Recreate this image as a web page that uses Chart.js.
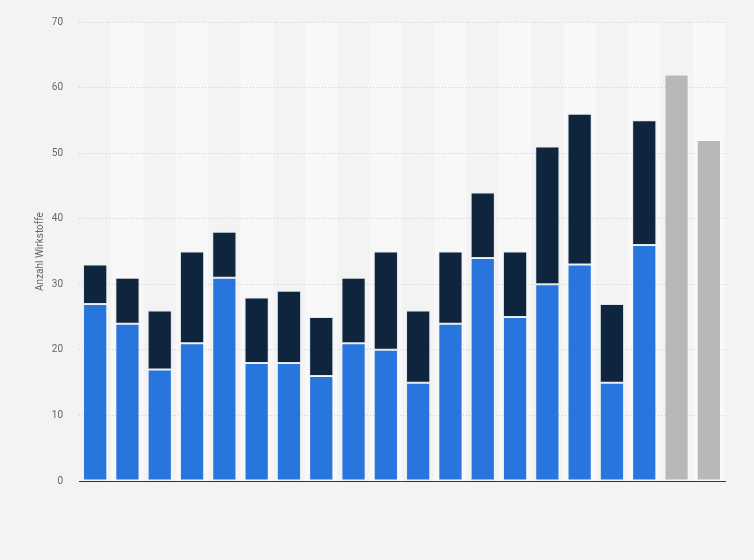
<!DOCTYPE html>
<html>
<head>
<meta charset="utf-8">
<script src="https://cdn.jsdelivr.net/npm/chart.js@4/dist/chart.umd.min.js"></script>
<style>
  html, body { margin: 0; padding: 0; background: #f3f3f3; }
  #wrap { width: 754px; height: 560px; position: relative; }
</style>
</head>
<body>
<div id="wrap"><canvas id="c"></canvas></div>
<script>
const categories = ['1','2','3','4','5','6','7','8','9','10','11','12','13','14','15','16','17','18','19','20'];
const seriesBlue  = [27, 24, 17, 21, 31, 18, 18, 16, 21, 20, 15, 24, 34, 25, 30, 33, 15, 36, null, null];
const seriesDark  = [6, 7, 9, 14, 7, 10, 11, 9, 10, 15, 11, 11, 10, 10, 21, 23, 12, 19, null, null];
const seriesGray  = [null, null, null, null, null, null, null, null, null, null, null, null, null, null, null, null, null, null, 62, 52];
const yTicks = [0, 10, 20, 30, 40, 50, 60, 70];

const bandPlugin = {
  id: 'bands',
  beforeDraw(chart) {
    const { ctx, chartArea, scales } = chart;
    ctx.save();
    ctx.fillStyle = '#f3f3f3';
    ctx.fillRect(0, 0, chart.width, chart.height);
    const x = scales.x;
    const n = categories.length;
    const w = (chartArea.right - chartArea.left) / n;
    for (let i = 0; i < n; i++) {
      if (i % 2 === 1) {
        const cx = x.getPixelForValue(i);
        ctx.fillStyle = '#f8f8f8';
        ctx.fillRect(cx - w / 2, chartArea.top, w, chartArea.bottom - chartArea.top);
      }
    }
    ctx.restore();
  }
};

new Chart(document.getElementById('c'), {
  type: 'bar',
  data: {
    labels: categories,
    datasets: [
      { label: 'A', data: seriesBlue, backgroundColor: '#2876dd', borderColor: 'rgba(230,240,255,0.45)', borderWidth: 1, borderSkipped: false },
      { label: 'B', data: seriesDark, backgroundColor: '#0f253d', borderColor: 'rgba(200,210,225,0.45)', borderWidth: 1, borderSkipped: false },
      { label: 'C', data: seriesGray, backgroundColor: '#b8b8b8', borderColor: 'rgba(255,255,255,0.6)', borderWidth: 1, borderSkipped: false }
    ]
  },
  options: {
    responsive: true,
    maintainAspectRatio: false,
    animation: false,
    layout: { padding: { top: 20, right: 29, bottom: 79, left: 0 } },
    plugins: { legend: { display: false }, tooltip: { enabled: false } },
    datasets: { bar: { categoryPercentage: 1, barPercentage: 0.75, grouped: false } },
    scales: {
      x: {
        stacked: true,
        grid: { display: false, drawTicks: false },
        border: { display: true, color: '#333333', width: 1 },
        ticks: { display: false }
      },
      y: {
        stacked: true,
        min: 0, max: 70,
        afterBuildTicks(axis) { axis.ticks = yTicks.map(v => ({ value: v })); },
        afterFit(axis) { axis.width = 79; },
        grid: { color: '#cfcfcf', lineWidth: 1, drawTicks: false },
        border: { display: false, dash: [1, 2] },
        ticks: { color: '#666666', font: { family: 'Roboto, Arial, sans-serif', size: 10 }, padding: 16 },
        title: { display: true, text: 'Anzahl Wirkstoffe', color: '#666666', font: { family: 'Roboto, Arial, sans-serif', size: 10 }, padding: { top: 34, bottom: 0 } }
      }
    }
  },
  plugins: [bandPlugin]
});
</script>
</body>
</html>
